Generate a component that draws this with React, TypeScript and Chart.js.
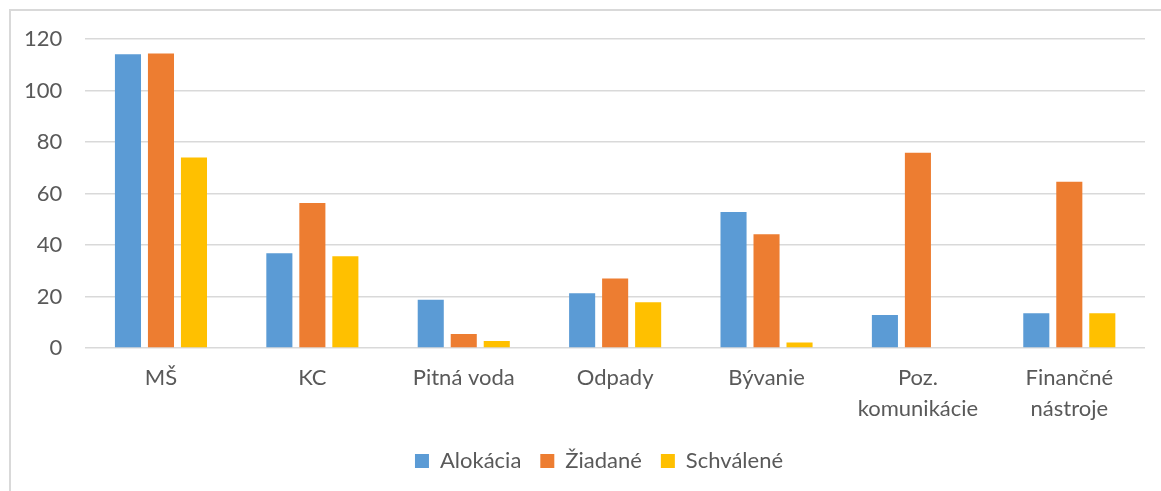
import React, { useEffect, useRef } from "react";
import { Chart, registerables } from "chart.js";

Chart.register(...registerables);

const categories: (string | string[])[] = [
  "MŠ",
  "KC",
  "Pitná voda",
  "Odpady",
  "Bývanie",
  ["Poz.", "komunikácie"],
  ["Finančné", "nástroje"],
];
const alokacia = [114.1, 36.8, 18.7, 21.3, 52.8, 12.8, 13.5];
const ziadane = [114.4, 56.3, 5.4, 27.0, 44.2, 75.8, 64.6];
const schvalene = [74.0, 35.6, 2.7, 17.8, 2.1, 0, 13.5];
const seriesNames = ["Alokácia", "Žiadané", "Schválené"];
const yTicks = [0, 20, 40, 60, 80, 100, 120];

const FONT = "Lato, 'Open Sans', sans-serif";
const TEXT = "#595959";

const legendShift = {
  id: "legendShift",
  afterLayout(chart: any) {
    const lg = chart.legend;
    if (lg) {
      lg.left += 26;
      lg.right += 26;
    }
  },
};

export default function App() {
  const ref = useRef<HTMLCanvasElement | null>(null);
  useEffect(() => {
    if (!ref.current) return;
    const colors = ["#5b9bd5", "#ed7d31", "#ffc000"];
    const chart = new Chart(ref.current, {
      type: "bar",
      data: {
        labels: categories,
        datasets: [alokacia, ziadane, schvalene].map((d, i) => ({
          label: seriesNames[i],
          data: d,
          backgroundColor: colors[i],
          borderWidth: 0,
          categoryPercentage: 0.654,
          barPercentage: 0.79,
        })),
      },
      plugins: [legendShift],
      options: {
        animation: false,
        responsive: false,
        maintainAspectRatio: false,
        layout: { padding: { left: 1, right: 16, top: 39, bottom: 9 } },
        plugins: {
          tooltip: { enabled: false },
          legend: {
            position: "bottom",
            labels: {
              color: TEXT,
              font: { family: FONT, size: 22 },
              boxWidth: 14,
              boxHeight: 14,
              padding: 19,
            },
          },
        },
        scales: {
          x: {
            grid: { display: false },
            border: { display: false },
            afterFit: (scale: any) => {
              scale.height = 83;
            },
            ticks: {
              color: TEXT,
              font: { family: FONT, size: 22, lineHeight: 1.4 },
              maxRotation: 0,
              autoSkip: false,
              padding: 7,
            },
          },
          y: {
            min: 0,
            max: 120,
            afterBuildTicks: (axis: any) => {
              axis.ticks = yTicks.map((v) => ({ value: v }));
            },
            grid: { color: "#d9d9d9", lineWidth: 1.5, drawTicks: false },
            border: { display: false },
            ticks: {
              color: TEXT,
              font: { family: FONT, size: 22 },
              padding: 23,
            },
          },
        },
      },
    });
    return () => chart.destroy();
  }, []);
  return (
    <div style={{ position: "fixed", left: 0, top: 0, width: 1161, height: 491, background: "#fff", overflow: "hidden" }}>
      <div
        style={{
          position: "absolute",
          left: 9,
          top: 9,
          width: 1300,
          height: 700,
          borderTop: "2px solid #d9d9d9",
          borderLeft: "2px solid #d9d9d9",
        }}
      />
      <canvas ref={ref} width={1161} height={491} style={{ position: "absolute", left: 0, top: 0 }} />
    </div>
  );
}
